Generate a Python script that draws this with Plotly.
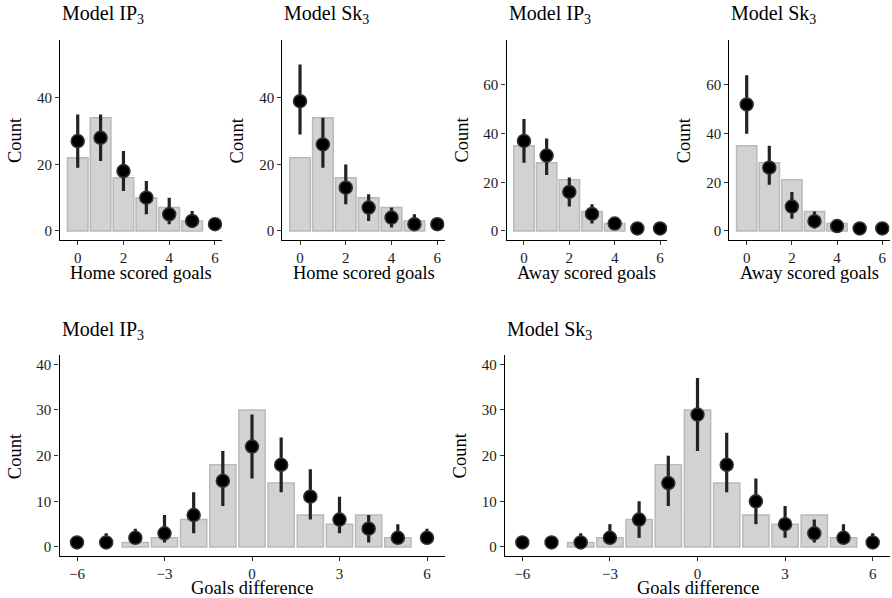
import plotly.graph_objects as go

W, H = 892, 598
FONT = "Liberation Serif"

# ---------------- data ----------------
goals = [0, 1, 2, 3, 4, 5, 6]
diff = [-6, -5, -4, -3, -2, -1, 0, 1, 2, 3, 4, 5, 6]

home_obs_x = [0, 1, 2, 3, 4, 5]
home_obs = [22, 34, 16, 10, 7, 3]
away_obs_x = [0, 1, 2, 3, 4]
away_obs = [35, 28, 21, 8, 3]
diff_obs_x = [-4, -3, -2, -1, 0, 1, 2, 3, 4, 5]
diff_obs = [1, 2, 6, 18, 30, 14, 7, 5, 7, 2]

home_ip_med = [27, 28, 18, 10, 5, 3, 2]
home_ip_lo = [19, 21, 12, 5, 2, 1, 1]
home_ip_hi = [35, 35, 24, 15, 10, 6, 3]

home_sk_med = [39, 26, 13, 7, 4, 2, 2]
home_sk_lo = [29, 19, 8, 3, 1, 0, 1]
home_sk_hi = [50, 34, 20, 11, 7, 5, 3]

away_ip_med = [37, 31, 16, 7, 3, 1, 1]
away_ip_lo = [28, 23, 10, 3, 1, 0, 0]
away_ip_hi = [46, 38, 22, 11, 5, 2, 2]

away_sk_med = [52, 26, 10, 4, 2, 1, 1]
away_sk_lo = [40, 19, 5, 1, 1, 0, 0]
away_sk_hi = [64, 35, 16, 8, 3, 2, 2]

diff_ip_med = [1, 1, 2, 3, 7, 14.5, 22, 18, 11, 6, 4, 2, 2]
diff_ip_lo = [0, 0, 1, 1, 3, 9, 15, 12, 6, 3, 1, 1, 1]
diff_ip_hi = [2, 3, 4, 7, 12, 21, 29, 24, 17, 11, 7, 5, 4]

diff_sk_med = [1, 1, 1, 2, 6, 14, 29, 18, 10, 5, 3, 2, 1]
diff_sk_lo = [0, 0, 0, 1, 2, 9, 21, 12, 5, 2, 1, 1, 0]
diff_sk_hi = [2, 2, 3, 5, 10, 20, 37, 25, 15, 9, 6, 5, 3]

top_ticks = [0, 2, 4, 6]
home_yticks = [0, 20, 40]
away_yticks = [0, 20, 40, 60]
diff_xticks = [-6, -3, 0, 3, 6]
diff_yticks = [0, 10, 20, 30, 40]

titles = ["Model IP<sub>3</sub>", "Model Sk<sub>3</sub>", "Model IP<sub>3</sub>",
          "Model Sk<sub>3</sub>", "Model IP<sub>3</sub>", "Model Sk<sub>3</sub>"]
xlabels = ["Home scored goals", "Home scored goals", "Away scored goals",
           "Away scored goals", "Goals difference", "Goals difference"]

# ---------------- layout geometry (pixels) ----------------
panels = [
    dict(x0=60.1, x1=222.3, y0=40, y1=240, xr=[-0.77, 6.32], yr=[-2.74, 57.4],
         xt=top_ticks, yt=home_yticks),
    dict(x0=282.4, x1=444.6, y0=40, y1=240, xr=[-0.77, 6.32], yr=[-2.74, 57.4],
         xt=top_ticks, yt=home_yticks),
    dict(x0=506.5, x1=667.3, y0=40, y1=240, xr=[-0.77, 6.32], yr=[-3.74, 78.5],
         xt=top_ticks, yt=away_yticks),
    dict(x0=729.3, x1=889.5, y0=40, y1=240, xr=[-0.77, 6.32], yr=[-3.74, 78.5],
         xt=top_ticks, yt=away_yticks),
    dict(x0=59.5, x1=444.5, y0=355.2, y1=556.1, xr=[-6.6, 6.6], yr=[-2, 42],
         xt=diff_xticks, yt=diff_yticks),
    dict(x0=504.8, x1=890.2, y0=355.2, y1=556.1, xr=[-6.6, 6.6], yr=[-2, 42],
         xt=diff_xticks, yt=diff_yticks),
]

series = [
    (home_obs_x, home_obs, goals, home_ip_med, home_ip_lo, home_ip_hi),
    (home_obs_x, home_obs, goals, home_sk_med, home_sk_lo, home_sk_hi),
    (away_obs_x, away_obs, goals, away_ip_med, away_ip_lo, away_ip_hi),
    (away_obs_x, away_obs, goals, away_sk_med, away_sk_lo, away_sk_hi),
    (diff_obs_x, diff_obs, diff, diff_ip_med, diff_ip_lo, diff_ip_hi),
    (diff_obs_x, diff_obs, diff, diff_sk_med, diff_sk_lo, diff_sk_hi),
]

fig = go.Figure()
annotations = []

for i, (p, s) in enumerate(zip(panels, series)):
    n = "" if i == 0 else str(i + 1)
    xa, ya = "x" + n, "y" + n
    bx, by, px, med, lo, hi = s
    fig.add_trace(go.Bar(
        x=bx, y=by, width=0.9, xaxis=xa, yaxis=ya,
        marker=dict(color="#d1d2d1", line=dict(color="#b9b9b9", width=1.5)),
        showlegend=False, hoverinfo="skip"))
    fig.add_trace(go.Scatter(
        x=px, y=med, mode="markers", xaxis=xa, yaxis=ya,
        marker=dict(size=13, color="#000000", line=dict(color="#333333", width=1.5)),
        error_y=dict(type="data", symmetric=False,
                     array=[h - m for h, m in zip(hi, med)],
                     arrayminus=[m - l for m, l in zip(med, lo)],
                     thickness=3.2, width=0, color="#222222"),
        showlegend=False))

    axis_common = dict(showline=True, linecolor="black", linewidth=1.3,
                       ticks="outside", ticklen=4, tickwidth=1, tickcolor="#333",
                       showgrid=False, zeroline=False, fixedrange=True,
                       tickfont=dict(family=FONT, size=15, color="#1a1a1a"))
    fig.update_layout({
        "xaxis" + n: dict(domain=[p["x0"] / W, p["x1"] / W], range=p["xr"],
                          anchor=ya, tickmode="array", tickvals=p["xt"],
                          ticktext=[str(v).replace("-", "\u2212") for v in p["xt"]],
                          **axis_common),
        "yaxis" + n: dict(domain=[1 - p["y1"] / H, 1 - p["y0"] / H], range=p["yr"],
                          anchor=xa, tickmode="array", tickvals=p["yt"],
                          **axis_common),
    })

    # panel title
    annotations.append(dict(
        text=titles[i], x=p["x0"] / W, y=1 - (p["y0"] - 25) / H,
        xref="paper", yref="paper", xanchor="left", yanchor="middle",
        showarrow=False, font=dict(family=FONT, size=20, color="black")))
    # x label
    top = i < 4
    annotations.append(dict(
        text=xlabels[i], x=(p["x0"] + p["x1"]) / 2 / W,
        y=1 - (p["y1"] + (33 if top else 32)) / H,
        xref="paper", yref="paper", xanchor="center", yanchor="middle",
        showarrow=False, font=dict(family=FONT, size=18.5, color="black")))
    # y label
    annotations.append(dict(
        text="Count", x=(p["x0"] - 45) / W, y=1 - ((p["y0"] + p["y1"]) / 2) / H,
        xref="paper", yref="paper", xanchor="center", yanchor="middle",
        textangle=-90, showarrow=False,
        font=dict(family=FONT, size=18.5, color="black")))

fig.update_layout(
    width=W, height=H, margin=dict(l=0, r=0, t=0, b=0),
    paper_bgcolor="white", plot_bgcolor="white",
    barmode="overlay", annotations=annotations,
    font=dict(family=FONT),
)

fig.write_html("out.html", config={"displayModeBar": False},
               post_script="document.body.style.margin='0';document.body.style.overflow='hidden';")
